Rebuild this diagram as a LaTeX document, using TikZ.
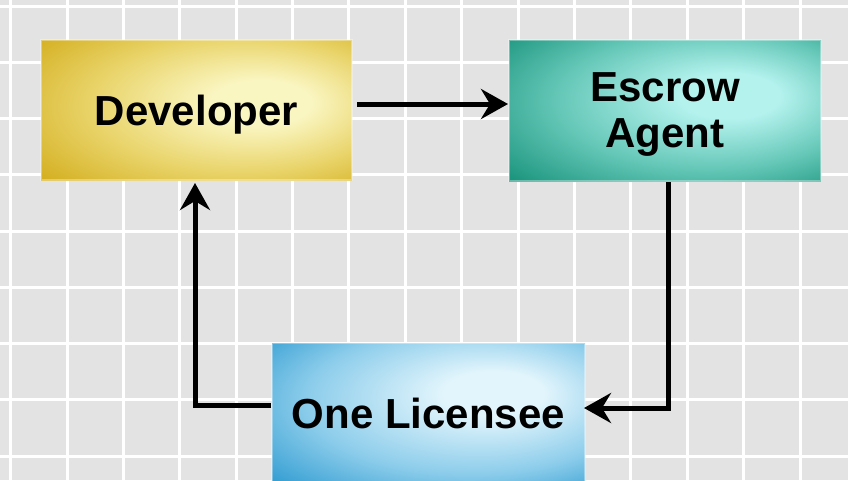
\documentclass[tikz,border=0pt]{standalone}
\usepackage{fontspec}
\setmainfont{Liberation Sans}
\usetikzlibrary{arrows.meta}

% box colours: deep edge, middle tone, highlight
\definecolor{devA}{HTML}{D2AC1A}
\definecolor{devM}{HTML}{E9D46A}
\definecolor{devB}{HTML}{FAF6C2}
\definecolor{escA}{HTML}{17927A}
\definecolor{escM}{HTML}{66C8B8}
\definecolor{escB}{HTML}{B4F2EE}
\definecolor{licA}{HTML}{2596CE}
\definecolor{licM}{HTML}{8DCDEB}
\definecolor{licB}{HTML}{E2F5FC}
\definecolor{bggray}{HTML}{E3E3E3}

% soft highlight sitting right of the centre of each box
\pgfdeclareradialshading{devshade}{\pgfpoint{12bp}{3bp}}{color(0bp)=(devB); color(8bp)=(devB); color(24bp)=(devM); color(40bp)=(devA); color(60bp)=(devA)}
\pgfdeclareradialshading{escshade}{\pgfpoint{12bp}{6bp}}{color(0bp)=(escB); color(8bp)=(escB); color(24bp)=(escM); color(40bp)=(escA); color(60bp)=(escA)}
\pgfdeclareradialshading{licshade}{\pgfpoint{12bp}{8bp}}{color(0bp)=(licB); color(8bp)=(licB); color(26bp)=(licM); color(42bp)=(licA); color(60bp)=(licA)}

\tikzset{
  box/.style={rectangle, inner sep=0pt, font=\bfseries\fontsize{42}{46}\selectfont,
    align=center, draw=white, draw opacity=0.35, line width=2pt},
  flow/.style={line width=5pt, line join=miter, black,
    -{Stealth[length=27pt,width=30pt,inset=9pt]}},
  gridline/.style={white, line width=3pt}
}

\begin{document}
\begin{tikzpicture}[x=1pt,y=-1pt]
  \useasboundingbox (0,0) rectangle (848,480);
  \clip (0,0) rectangle (848,480);
  \fill[bggray] (0,0) rectangle (848,480);

  % background grid
  \foreach \k in {0,...,14}
    \draw[gridline] ({10.7+56.38*\k},0) -- ({10.7+56.38*\k},480);
  \foreach \k in {0,...,8}
    \draw[gridline] (0,{6+56.25*\k}) -- (848,{6+56.25*\k});

  % parties
  \node[box, shading=devshade, minimum width=311pt, minimum height=140pt,
        text height=30pt, text depth=0pt] (dev) at (196.5,110) {Developer};
  \node[box, shading=escshade, minimum width=312pt, minimum height=141pt,
        text depth=0pt] (esc) at (665,110.5) {Escrow\\Agent};
  \node[box, shading=licshade, minimum width=313pt, minimum height=140pt,
        text height=30pt, text depth=0pt] (lic) at (428.5,413) {One Licensee};

  % corner points of the return paths
  \coordinate (escturn) at (668,408);
  \coordinate (licturn) at (195,405);

  % flows
  \draw[flow] ([xshift=4pt]dev.east |- 0,104) -- (esc.west |- 0,104);
  \draw[flow] (esc.south -| escturn) -- (escturn) -- ([xshift=-2pt]lic.east |- escturn);
  \draw[flow] (lic.west |- licturn) -- (licturn) -- ([yshift=-2pt]dev.south -| licturn);
\end{tikzpicture}
\end{document}
